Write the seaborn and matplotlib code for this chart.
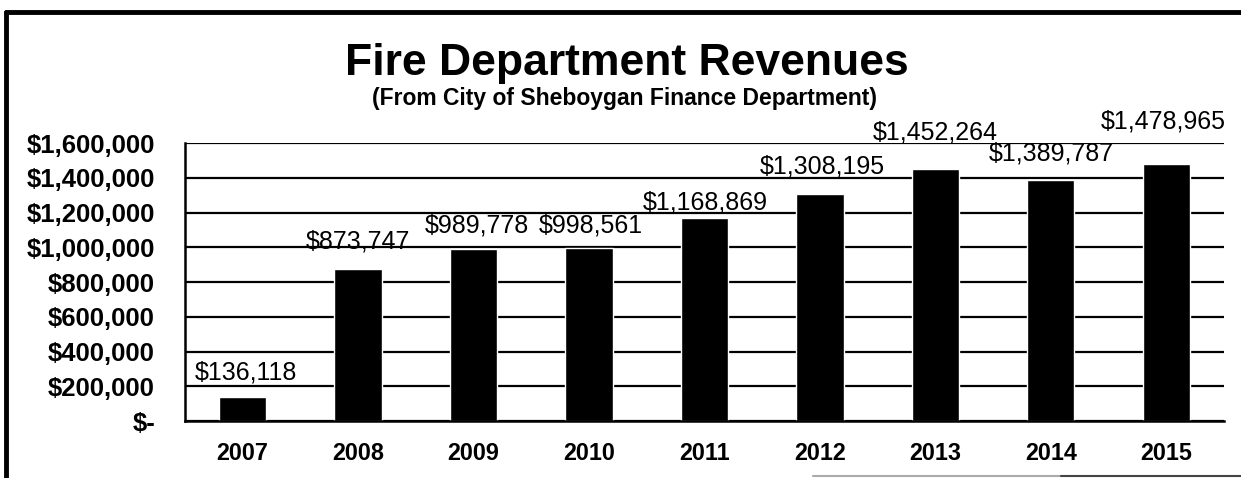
import matplotlib
matplotlib.use("Agg")
import matplotlib.pyplot as plt
from matplotlib.lines import Line2D
import seaborn as sns
import pandas as pd

# Chart data
years = ["2007", "2008", "2009", "2010", "2011", "2012", "2013", "2014", "2015"]
revenues = [136118, 873747, 989778, 998561, 1168869, 1308195, 1452264, 1389787, 1478965]
y_ticks = [0, 200000, 400000, 600000, 800000, 1000000, 1200000, 1400000, 1600000]

# Manual label nudges (pixels), like the hand-placed Excel labels
label_dx = [3, 0, 3, 2, 1, 2, 0, 1, -3]
label_dy = [25, 28, 24, 22, 15, 27, 36, 26, 43]

df = pd.DataFrame({"year": years, "revenue": revenues})

sns.set_style("white")
plt.rcParams["font.family"] = ["Liberation Sans", "DejaVu Sans"]
plt.rcParams["text.color"] = "black"
plt.rcParams["xtick.color"] = "black"
plt.rcParams["ytick.color"] = "black"

fig = plt.figure(figsize=(12.41, 4.78), dpi=100)
ax = fig.add_axes([0.149, 0.1192, 0.8373, 0.5816])

sns.barplot(data=df, x="year", y="revenue", color="black", width=0.41,
            saturation=1, ax=ax)

ax.set_ylim(0, 1600000)
ax.set_yticks(y_ticks)


def money(v):
    if v == 0:
        return "$-"
    return "${:,.0f}".format(v)


ax.set_yticklabels([money(v) for v in y_ticks], fontsize=18.5, fontweight="bold")
ax.tick_params(axis="y", length=0, pad=21.5)
ax.tick_params(axis="x", length=0, pad=15, labelsize=16.8)
for t in ax.get_xticklabels():
    t.set_fontweight("bold")

ax.set_xlabel("")
ax.set_ylabel("")
ax.yaxis.grid(True, color="black", linewidth=1.6)
ax.set_axisbelow(True)

for s in ["top", "right"]:
    ax.spines[s].set_visible(False)
for s in ["left", "bottom"]:
    ax.spines[s].set_color("black")
    ax.spines[s].set_linewidth(1.8)

# Data labels
for i, bar in enumerate(ax.patches[:len(revenues)]):
    xc = bar.get_x() + bar.get_width() / 2
    ax.annotate(money(revenues[i]), xy=(xc, bar.get_height()),
                xytext=(label_dx[i], label_dy[i]), textcoords="offset pixels",
                ha="center", va="center", fontsize=18, color="black",
                annotation_clip=False)

fig.text(0.505, 0.843, "Fire Department Revenues", ha="center", va="baseline",
         fontsize=32, fontweight="bold", color="black")
fig.text(0.503, 0.780, "(From City of Sheboygan Finance Department)",
         ha="center", va="baseline", fontsize=16.5, fontweight="bold", color="black")

# Outer frame of the scanned page
fig.add_artist(Line2D([0.005, 1.0], [0.975, 0.975], color="black", linewidth=3.5,
                      transform=fig.transFigure))
fig.add_artist(Line2D([0.005, 0.005], [0.0, 0.975], color="black", linewidth=3.5,
                      transform=fig.transFigure))
fig.add_artist(Line2D([0.655, 0.855], [0.004, 0.004], color="#aaaaaa", linewidth=1.5,
                      transform=fig.transFigure))
fig.add_artist(Line2D([0.855, 1.0], [0.004, 0.004], color="#444444", linewidth=1.5,
                      transform=fig.transFigure))

fig.savefig("out.png", dpi=100)
